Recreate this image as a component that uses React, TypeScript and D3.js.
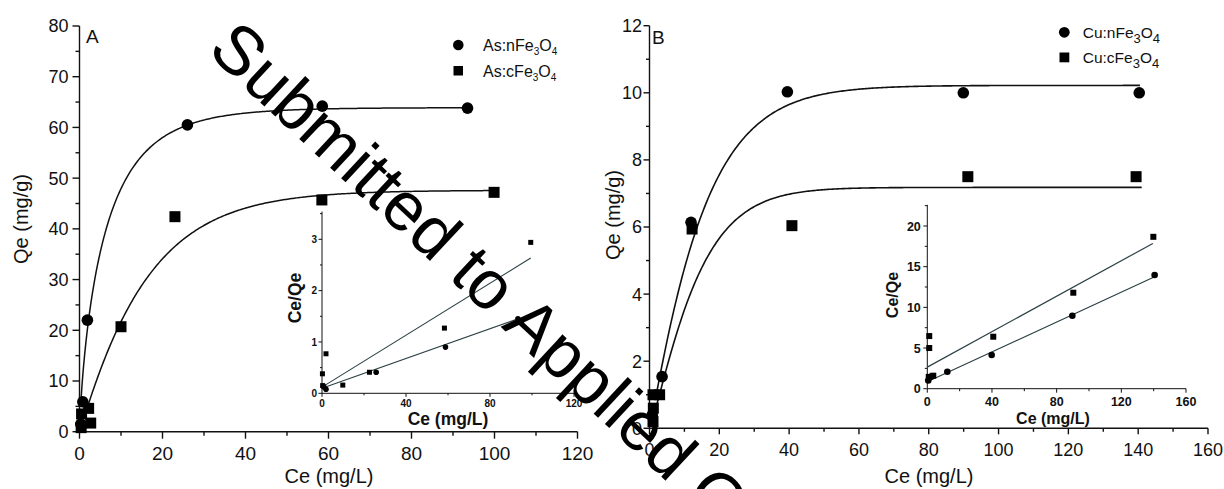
import React from 'react';
import * as d3 from 'd3';

const W = 1224;
const H = 489;
const FONT = "'Liberation Sans', Arial, Helvetica, sans-serif";

// ---------- Panel A (As) main isotherm ----------
const asNanoCe = [0.3, 0.8, 1.9, 26, 58.5, 93.5];
const asNanoQe = [1.5, 5.9, 22, 60.5, 64.2, 63.8];
const asBulkCe = [0.4, 0.5, 2.7, 2.2, 10, 23, 58.4, 99.9];
const asBulkQe = [0.8, 3.5, 1.7, 4.6, 20.7, 42.4, 45.7, 47.2];

// ---------- Panel A inset (Ce/Qe vs Ce) ----------
const asInsetNanoCe = [0.8, 1.9, 25.8, 58.8, 93.3];
const asInsetNanoY = [0.13, 0.08, 0.41, 0.9, 1.45];
const asInsetBulkCe = [0.2, 0.3, 1.9, 9.9, 22.6, 58.3, 99.4];
const asInsetBulkY = [0.38, 0.15, 0.77, 0.16, 0.41, 1.27, 2.94];

// ---------- Panel B (Cu) main isotherm ----------
const cuNanoCe = [0.8, 3.6, 11.9, 39.5, 89.9, 140.3];
const cuNanoQe = [0.4, 1.54, 6.14, 10.03, 10.0, 10.0];
const cuBulkCe = [1.0, 2.9, 1.1, 1.0, 12.2, 40.8, 91.2, 139.4];
const cuBulkQe = [1.0, 1.0, 0.6, 0.2, 5.94, 6.04, 7.5, 7.5];

// ---------- Panel B inset ----------
const cuInsetNanoCe = [0.6, 2.3, 12.4, 39.8, 89.7, 140.6];
const cuInsetNanoY = [1.0, 1.5, 2.09, 4.14, 8.97, 13.97];
const cuInsetBulkCe = [1.2, 1.2, 0.9, 3.7, 40.8, 90.3, 139.8];
const cuInsetBulkY = [6.47, 5.0, 1.45, 1.6, 6.39, 11.8, 18.67];

// ---------- fitted model parameters ----------
// isotherm fits: Q = qm * (1 - exp(-(k*C)^n))
const fitAsNano = { qm: 63.9, k: 0.152, n: 0.78, c0: 0.3, c1: 93.5 };
const fitAsBulk = { qm: 47.6, k: 0.0623, n: 1.05, c0: 1.5, c1: 100 };
const fitCuNano = { qm: 10.22, k: 0.0655, n: 1.1, c0: 2.0, c1: 140.5 };
const fitCuBulk = { qm: 7.18, k: 0.0722, n: 1.2, c0: 2.0, c1: 141 };
// linear fits for insets: y = a + b*C
const linAsNano = { a: 0.1, b: 0.01447, c0: 0, c1: 93.3 };
const linAsBulk = { a: 0.12, b: 0.0253, c0: 0, c1: 99.4 };
const linCuNano = { a: 0.85, b: 0.0918, c0: 0, c1: 140.6 };
const linCuBulk = { a: 2.65, b: 0.109, c0: 0, c1: 139.5 };

// tick values
const ticksAX = [0, 20, 40, 60, 80, 100, 120];
const ticksAY = [0, 10, 20, 30, 40, 50, 60, 70, 80];
const ticksBX = [0, 20, 40, 60, 80, 100, 120, 140, 160];
const ticksBY = [0, 2, 4, 6, 8, 10, 12];
const ticksIAX = [0, 40, 80, 120];
const ticksIAY = [0, 1, 2, 3];
const ticksIBX = [0, 40, 80, 120, 160];
const ticksIBY = [0, 5, 10, 15, 20];

function modelCurve(f: any): [number, number][] {
  const pts: [number, number][] = [];
  const N = 300;
  for (let i = 0; i <= N; i++) {
    const c = f.c0 + ((f.c1 - f.c0) * i) / N;
    pts.push([c, f.qm * (1 - Math.exp(-Math.pow(f.k * c, f.n)))]);
  }
  return pts;
}
function linCurve(f: any): [number, number][] {
  return [
    [f.c0, f.a + f.b * f.c0],
    [f.c1, f.a + f.b * f.c1],
  ];
}
function mids(t: number[]) {
  const out: number[] = [];
  for (let i = 0; i < t.length - 1; i++) out.push((t[i] + t[i + 1]) / 2);
  return out;
}

function AxisLeft({ scale, x, major, minor, top, majLen, minLen, fs, bold, off, sw }: any) {
  const r = scale.range();
  return (
    <g stroke="#111" strokeWidth={sw} fill="none">
      <line x1={x} x2={x} y1={r[0]} y2={scale(top)} />
      {major.map((v: number) => (
        <line key={'M' + v} x1={x - majLen} x2={x} y1={scale(v)} y2={scale(v)} />
      ))}
      {minor.map((v: number) => (
        <line key={'m' + v} x1={x - minLen} x2={x} y1={scale(v)} y2={scale(v)} />
      ))}
      {major.map((v: number) => (
        <text
          key={'t' + v}
          x={x - off}
          y={scale(v)}
          dy="0.36em"
          textAnchor="end"
          fill="#111"
          stroke="none"
          fontSize={fs}
          fontWeight={bold ? 'bold' : 'normal'}
          fontFamily={FONT}
        >
          {v}
        </text>
      ))}
    </g>
  );
}

function AxisBottom({ scale, y, major, minor, right, majLen, minLen, fs, bold, off, sw }: any) {
  const r = scale.range();
  return (
    <g stroke="#111" strokeWidth={sw} fill="none">
      <line x1={r[0]} x2={scale(right)} y1={y} y2={y} />
      {major.map((v: number) => (
        <line key={'M' + v} x1={scale(v)} x2={scale(v)} y1={y} y2={y + majLen} />
      ))}
      {minor.map((v: number) => (
        <line key={'m' + v} x1={scale(v)} x2={scale(v)} y1={y} y2={y + minLen} />
      ))}
      {major.map((v: number) => (
        <text
          key={'t' + v}
          x={scale(v)}
          y={y + off}
          textAnchor="middle"
          fill="#111"
          stroke="none"
          fontSize={fs}
          fontWeight={bold ? 'bold' : 'normal'}
          fontFamily={FONT}
        >
          {v}
        </text>
      ))}
    </g>
  );
}

function Circles({ xs, ys, sx, sy, r }: any) {
  return (
    <g fill="#000">
      {xs.map((c: number, i: number) => (
        <circle key={i} cx={sx(c)} cy={sy(ys[i])} r={r} />
      ))}
    </g>
  );
}
function Squares({ xs, ys, sx, sy, s }: any) {
  return (
    <g fill="#000">
      {xs.map((c: number, i: number) => (
        <rect key={i} x={sx(c) - s / 2} y={sy(ys[i]) - s / 2} width={s} height={s} />
      ))}
    </g>
  );
}

export default function App() {
  // Panel A scales
  const xA = d3.scaleLinear().domain([0, 120]).range([79.5, 577.5]);
  const yA = d3.scaleLinear().domain([0, 80]).range([431.7, 26]);
  // Panel B scales
  const xB = d3.scaleLinear().domain([0, 160]).range([649.5, 1208]);
  const yB = d3.scaleLinear().domain([0, 12]).range([428.3, 25.7]);
  // Inset A
  const xIA = d3.scaleLinear().domain([0, 120]).range([322, 574]);
  const yIA = d3.scaleLinear().domain([0, 3]).range([393.3, 239.3]);
  // Inset B
  const xIB = d3.scaleLinear().domain([0, 160]).range([927.3, 1186]);
  const yIB = d3.scaleLinear().domain([0, 20]).range([388.7, 226]);

  const lineA = d3.line<[number, number]>().x((d) => xA(d[0])).y((d) => yA(d[1]));
  const lineB = d3.line<[number, number]>().x((d) => xB(d[0])).y((d) => yB(d[1]));
  const lineIA = d3.line<[number, number]>().x((d) => xIA(d[0])).y((d) => yIA(d[1]));
  const lineIB = d3.line<[number, number]>().x((d) => xIB(d[0])).y((d) => yIB(d[1]));

  const insetLine = '#2c4145';

  return (
    <svg
      width={W}
      height={H}
      viewBox={`0 0 ${W} ${H}`}
      style={{ position: 'absolute', left: 0, top: 0, background: '#fff', overflow: 'hidden' }}
      fontFamily={FONT}
    >
      <rect x={0} y={0} width={W} height={H} fill="#fff" />

      {/* ================= Panel A ================= */}
      <AxisLeft scale={yA} x={79.5} major={ticksAY} minor={mids(ticksAY)} top={80} majLen={7} minLen={4} fs={18} off={11} sw={1.4} />
      <AxisBottom scale={xA} y={431.7} major={ticksAX} minor={mids(ticksAX)} right={120} majLen={7} minLen={4} fs={19} off={28} sw={1.4} />
      <text x={86} y={43} fontSize={19} fill="#111">A</text>
      <text x={329} y={483} fontSize={20} textAnchor="middle" fill="#111">Ce (mg/L)</text>
      <text transform="translate(28,219) rotate(-90)" fontSize={20} textAnchor="middle" fill="#111">Qe (mg/g)</text>

      <path d={lineA(modelCurve(fitAsNano)) || ''} fill="none" stroke="#111" strokeWidth={1.5} />
      <path d={lineA(modelCurve(fitAsBulk)) || ''} fill="none" stroke="#111" strokeWidth={1.5} />
      <Circles xs={asNanoCe} ys={asNanoQe} sx={xA} sy={yA} r={5.8} />
      <Squares xs={asBulkCe} ys={asBulkQe} sx={xA} sy={yA} s={11} />

      {/* Legend A */}
      <circle cx={458.3} cy={45} r={5.3} fill="#000" />
      <rect x={453.5} y={66} width={9.5} height={9.5} fill="#000" />
      <text x={483} y={51} fontSize={16} fill="#111">
        As:nFe<tspan fontSize={10} dy={4}>3</tspan><tspan dy={-4}>O</tspan><tspan fontSize={10} dy={4}>4</tspan>
      </text>
      <text x={483} y={77} fontSize={16} fill="#111">
        As:cFe<tspan fontSize={10} dy={4}>3</tspan><tspan dy={-4}>O</tspan><tspan fontSize={10} dy={4}>4</tspan>
      </text>

      {/* Inset A */}
      <AxisLeft scale={yIA} x={322} major={ticksIAY} minor={[0.5, 1.5, 2.5, 3.5]} top={3.54} majLen={3.5} minLen={2} fs={10} bold off={5} sw={1} />
      <AxisBottom scale={xIA} y={393.3} major={ticksIAX} minor={[20, 60, 100]} right={120} majLen={3.5} minLen={2} fs={10} bold off={14} sw={1} />
      <text x={448} y={425} fontSize={17.5} fontWeight="bold" textAnchor="middle" fill="#111">Ce (mg/L)</text>
      <text transform="translate(301,298) rotate(-90)" fontSize={17.5} fontWeight="bold" textAnchor="middle" fill="#111">Ce/Qe</text>
      <path d={lineIA(linCurve(linAsBulk)) || ''} fill="none" stroke={insetLine} strokeWidth={1.1} />
      <path d={lineIA(linCurve(linAsNano)) || ''} fill="none" stroke={insetLine} strokeWidth={1.1} />
      <Squares xs={asInsetBulkCe} ys={asInsetBulkY} sx={xIA} sy={yIA} s={5} />
      <Circles xs={asInsetNanoCe} ys={asInsetNanoY} sx={xIA} sy={yIA} r={2.8} />

      {/* ================= Panel B ================= */}
      <AxisLeft scale={yB} x={649.5} major={ticksBY} minor={mids(ticksBY)} top={12} majLen={6} minLen={3.5} fs={18} off={7.5} sw={1.4} />
      <AxisBottom scale={xB} y={428.3} major={ticksBX} minor={mids(ticksBX)} right={160} majLen={6} minLen={3.5} fs={18} off={27.7} sw={1.4} />
      <text x={652} y={44} fontSize={19} fill="#111">B</text>
      <text x={929} y={483} fontSize={20} textAnchor="middle" fill="#111">Ce (mg/L)</text>
      <text transform="translate(620,215) rotate(-90)" fontSize={20} textAnchor="middle" fill="#111">Qe (mg/g)</text>

      <path d={lineB(modelCurve(fitCuNano)) || ''} fill="none" stroke="#111" strokeWidth={1.6} />
      <path d={lineB(modelCurve(fitCuBulk)) || ''} fill="none" stroke="#111" strokeWidth={1.6} />
      <Circles xs={cuNanoCe} ys={cuNanoQe} sx={xB} sy={yB} r={5.8} />
      <Squares xs={cuBulkCe} ys={cuBulkQe} sx={xB} sy={yB} s={11} />

      {/* Legend B */}
      <circle cx={1064.3} cy={32.3} r={5.4} fill="#000" />
      <rect x={1059.5} y={52.5} width={9.8} height={9.8} fill="#000" />
      <text x={1082.7} y={38} fontSize={15.5} fill="#111">
        Cu:nFe<tspan fontSize={13} dy={5}>3</tspan><tspan dy={-5}>O</tspan><tspan fontSize={13} dy={5}>4</tspan>
      </text>
      <text x={1082.7} y={63} fontSize={15.5} fill="#111">
        Cu:cFe<tspan fontSize={13} dy={5}>3</tspan><tspan dy={-5}>O</tspan><tspan fontSize={13} dy={5}>4</tspan>
      </text>

      {/* Inset B */}
      <AxisLeft scale={yIB} x={927.3} major={ticksIBY} minor={[2.5, 7.5, 12.5, 17.5, 22.5]} top={22.6} majLen={4} minLen={2.5} fs={12.5} bold off={6.5} sw={1} />
      <AxisBottom scale={xIB} y={388.7} major={ticksIBX} minor={[20, 60, 100, 140]} right={160} majLen={4} minLen={2.5} fs={12.5} bold off={17.3} sw={1} />
      <text x={1053} y={424} fontSize={16} fontWeight="bold" textAnchor="middle" fill="#111">Ce (mg/L)</text>
      <text transform="translate(898,295) rotate(-90)" fontSize={16} fontWeight="bold" textAnchor="middle" fill="#111">Ce/Qe</text>
      <path d={lineIB(linCurve(linCuBulk)) || ''} fill="none" stroke={insetLine} strokeWidth={1.2} />
      <path d={lineIB(linCurve(linCuNano)) || ''} fill="none" stroke={insetLine} strokeWidth={1.2} />
      <Squares xs={cuInsetBulkCe} ys={cuInsetBulkY} sx={xIB} sy={yIB} s={6} />
      <Circles xs={cuInsetNanoCe} ys={cuInsetNanoY} sx={xIB} sy={yIB} r={3.3} />

      {/* Watermark */}
      <text transform="translate(206,52) rotate(43)" fontSize={69} fill="#000" fontFamily={FONT}>
        Submitted to Applied Clay Science
      </text>
    </svg>
  );
}
